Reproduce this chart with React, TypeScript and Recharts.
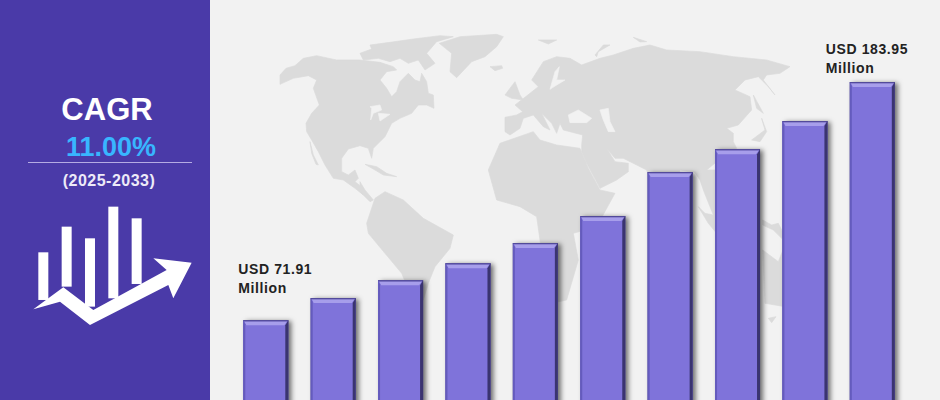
import React from "react";
import { BarChart, Bar, XAxis, YAxis, LabelList } from "recharts";

const years = [2024, 2025, 2026, 2027, 2028, 2029, 2030, 2031, 2032, 2033];
const marketSize = [71.91, 82.3, 90.7, 98.7, 108.2, 120.9, 141.6, 152.4, 165.6, 183.95];
const barLabels: Record<number, string[]> = {
  0: ["USD 71.91", "Million"],
  9: ["USD 183.95", "Million"],
};
const data = years.map((year, i) => ({ year: String(year), value: marketSize[i] }));

const FONT = "'Liberation Sans', Arial, sans-serif";
const LAND = "#DBDBDB";
const PAGE = "#F2F2F2";

// Decorative backdrop, traced in 3x space from four different origins.
const americasNorth = [
  "M0,150 L18,130 L45,122 L70,100 L110,92 L170,105 L240,105 L300,112 L340,125 L350,135 L320,140 L300,165 L320,190 L335,215 L350,200 L360,170 L385,145 L405,165 L420,170 L425,145 L440,170 L445,205 L460,210 L462,250 L440,240 L415,240 L395,265 L360,280 L335,295 L315,335 L280,370 L275,400 L265,370 L240,362 L205,372 L185,400 L185,440 L205,450 L225,435 L235,460 L225,470 L250,490 L250,510 L225,490 L190,465 L160,460 L135,420 L115,380 L95,345 L80,320 L78,295 L95,265 L118,240 L100,190 L110,165 L85,152 L40,160 L0,178 Z",
  "M240,85 L275,72 L270,60 L330,52 L400,42 L480,32 L520,35 L470,50 L440,85 L465,115 L435,135 L415,105 L385,115 L360,100 L330,110 L295,100 L250,105 Z",
  "M478,55 L540,35 L650,28 L670,35 L650,65 L615,95 L575,110 L530,158 L510,140 L515,85 Z",
  "M630,125 L665,122 L668,130 L645,137 Z",
  "M255,418 L290,425 L320,445 L350,455 L310,450 L285,435 Z",
  "M90,350 L100,390 L115,420 L108,418 L95,385 Z",
];
const greatLakes = [
  "M270,245 L300,240 L305,255 L280,265 L272,285 L275,250 Z",
  "M295,265 L330,268 L300,288 Z",
];
const eurasia = [
  "M15,262 L50,255 L68,245 L45,225 L90,190 L115,170 L95,150 L130,95 L170,80 L210,85 L245,105 L300,85 L340,75 L400,55 L450,45 L500,60 L600,65 L700,80 L800,90 L870,110 L840,130 L800,135 L790,150 L825,195 L805,170 L775,140 L735,150 L705,180 L750,200 L755,240 L715,285 L680,295 L700,310 L700,335 L710,355 L650,395 L620,420 L640,430 L640,510 L610,470 L600,430 L575,425 L540,420 L520,500 L470,510 L440,420 L400,400 L370,385 L345,385 L320,355 L345,395 L385,400 L385,425 L350,450 L300,475 L260,400 L245,365 L245,345 L248,315 L190,300 L180,280 L170,310 L155,280 L125,250 L150,300 L130,290 L100,255 L70,265 L60,295 L30,315 L15,305 Z",
  "M15,195 L45,155 L60,195 L70,210 L35,205 Z",
  "M755,330 L795,300 L785,265 L800,305 L780,335 Z",
  "M760,195 L790,250 L770,235 Z",
  "M285,75 L310,45 L330,45 L295,65 L290,80 Z",
  "M115,30 L170,30 L145,42 Z",
  "M400,22 L440,35 L420,36 Z",
];
const innerSeas = [
  "M205,255 L235,240 L275,265 L260,278 L210,278 Z",
  "M300,240 L325,235 L330,275 L345,305 L325,305 L310,270 Z",
  "M150,178 L165,125 L178,110 L170,150 L195,150 L170,165 Z",
];
const africa = [
  "M625,450 L660,370 L760,335 L780,360 L830,375 L900,385 L925,445 L960,510 L1005,520 L950,620 L880,640 L895,720 L860,840 L815,850 L790,730 L770,590 L720,560 L650,540 Z",
];
const southAmerica = [
  "M20,160 L45,85 L75,65 L130,90 L190,145 L280,195 L270,235 L225,290 L205,340 L190,390 L175,400 L150,370 L125,310 L100,280 L25,190 Z",
  "M0,35 L15,60 L40,90 L30,95 L0,65 Z",
];
const oceania = [
  "M10,0 L80,0 L80,190 L55,160 L25,110 L45,130 L70,135 L40,60 L30,30 Z",
  "M218,240 L265,275 L285,225 L285,410 L225,400 Z",
  "M235,445 L258,440 L245,458 Z",
  "M218,150 L245,165 L265,160 L285,200 L275,205 L250,180 L218,165 Z",
];

const mapLayers: [number, number, string[], string][] = [
  [280, 25, americasNorth, LAND],
  [280, 25, greatLakes, PAGE],
  [280, 20, africa, LAND],
  [500, 30, eurasia, LAND],
  [500, 30, innerSeas, PAGE],
  [360, 170, southAmerica, LAND],
  [690, 170, oceania, LAND],
];

const iconBars = [
  [115, 517, 30, 143],
  [185, 440, 30, 180],
  [255, 475, 30, 205],
  [325, 380, 30, 275],
  [395, 415, 30, 197],
];

function BevelBar(props: any) {
  const { x, y, width, height } = props;
  const b = x + width;
  const bottom = y + height;
  return (
    <g>
      <rect x={x} y={y} width={width} height={height} fill="#2c2850" style={{ filter: "drop-shadow(3px 1px 2.5px rgba(0,0,0,0.55))" }} />
      <rect x={x} y={y} width={width} height={height} fill="#7F73DA" />
      <polygon points={`${x + 1},${y + 1} ${b - 1},${y + 1} ${b - 4},${y + 5} ${x + 3},${y + 5}`} fill="#A79EEB" />
      <rect x={x} y={y} width={width} height={1.2} fill="#4F4796" />
      <polygon points={`${x},${y} ${x + 2},${y + 4} ${x + 2},${bottom} ${x},${bottom}`} fill="#645BBD" />
      <polygon points={`${b},${y} ${b - 3},${y + 5} ${b - 3},${bottom} ${b},${bottom}`} fill="#3A3470" />
    </g>
  );
}

function CornerLabel(props: any) {
  const { x, y, index } = props;
  const lines = barLabels[index];
  if (!lines) return null;
  const dx = index === 0 ? -5 : -24;
  const top = index === 0 ? -46 : -28;
  return (
    <text x={x + dx} y={y + top} fontFamily={FONT} fontWeight={700} fontSize={14} letterSpacing={0.6} fill="#222222">
      <tspan x={x + dx}>{lines[0]}</tspan>
      <tspan x={x + dx} dy={19}>{lines[1]}</tspan>
    </text>
  );
}

function SidePanel() {
  return (
    <svg width={210} height={400} style={{ position: "absolute", left: 0, top: 0 }}>
      <rect width={210} height={400} fill="#4A3AA8" />
      <text x={107} y={120} textAnchor="middle" fontFamily={FONT} fontWeight={700} fontSize={31} fill="#ffffff">CAGR</text>
      <text x={111} y={156} textAnchor="middle" fontFamily={FONT} fontWeight={700} fontSize={27} fill="#38B6FF">11.00%</text>
      <line x1={28} x2={192} y1={162.5} y2={162.5} stroke="#B5ABE3" strokeWidth={1} />
      <text x={109} y={186} textAnchor="middle" fontFamily={FONT} fontWeight={700} fontSize={16} letterSpacing={0.5} fill="#EDEAF8">(2025-2033)</text>
      <g transform="translate(0,80) scale(0.3333)" fill="#ffffff">
        {iconBars.map(([x, y, w, h]) => <rect key={x} x={x} y={y} width={w} height={h} />)}
        <polygon points="100,688 190,622 280,690 500,570 460,535 575,548 520,655 505,615 270,735 180,665" />
      </g>
    </svg>
  );
}

export default function App() {
  return (
    <div style={{ position: "absolute", left: 0, top: 0, width: 940, height: 400, overflow: "hidden", background: PAGE }}>
      <svg width={940} height={400} style={{ position: "absolute", left: 0, top: 0 }}>
        {mapLayers.map(([ox, oy, shapes, fill], l) => (
          <g key={l} transform={`translate(${ox},${oy}) scale(0.3333)`}>
            {shapes.map((d, i) => <path key={i} d={d} fill={fill} stroke={fill} strokeLinejoin="round" strokeWidth={2} />)}
          </g>
        ))}
      </svg>
      <SidePanel />
      <div style={{ position: "absolute", left: 0, top: 0 }}>
        <BarChart width={940} height={473} data={data} margin={{ top: 48, right: 33.8, bottom: 0, left: 232.3 }} barSize={45}>
          <XAxis dataKey="year" hide />
          <YAxis hide domain={[0, 200]} />
          <Bar dataKey="value" shape={<BevelBar />} isAnimationActive={false}>
            <LabelList dataKey="value" content={<CornerLabel />} />
          </Bar>
        </BarChart>
      </div>
    </div>
  );
}
